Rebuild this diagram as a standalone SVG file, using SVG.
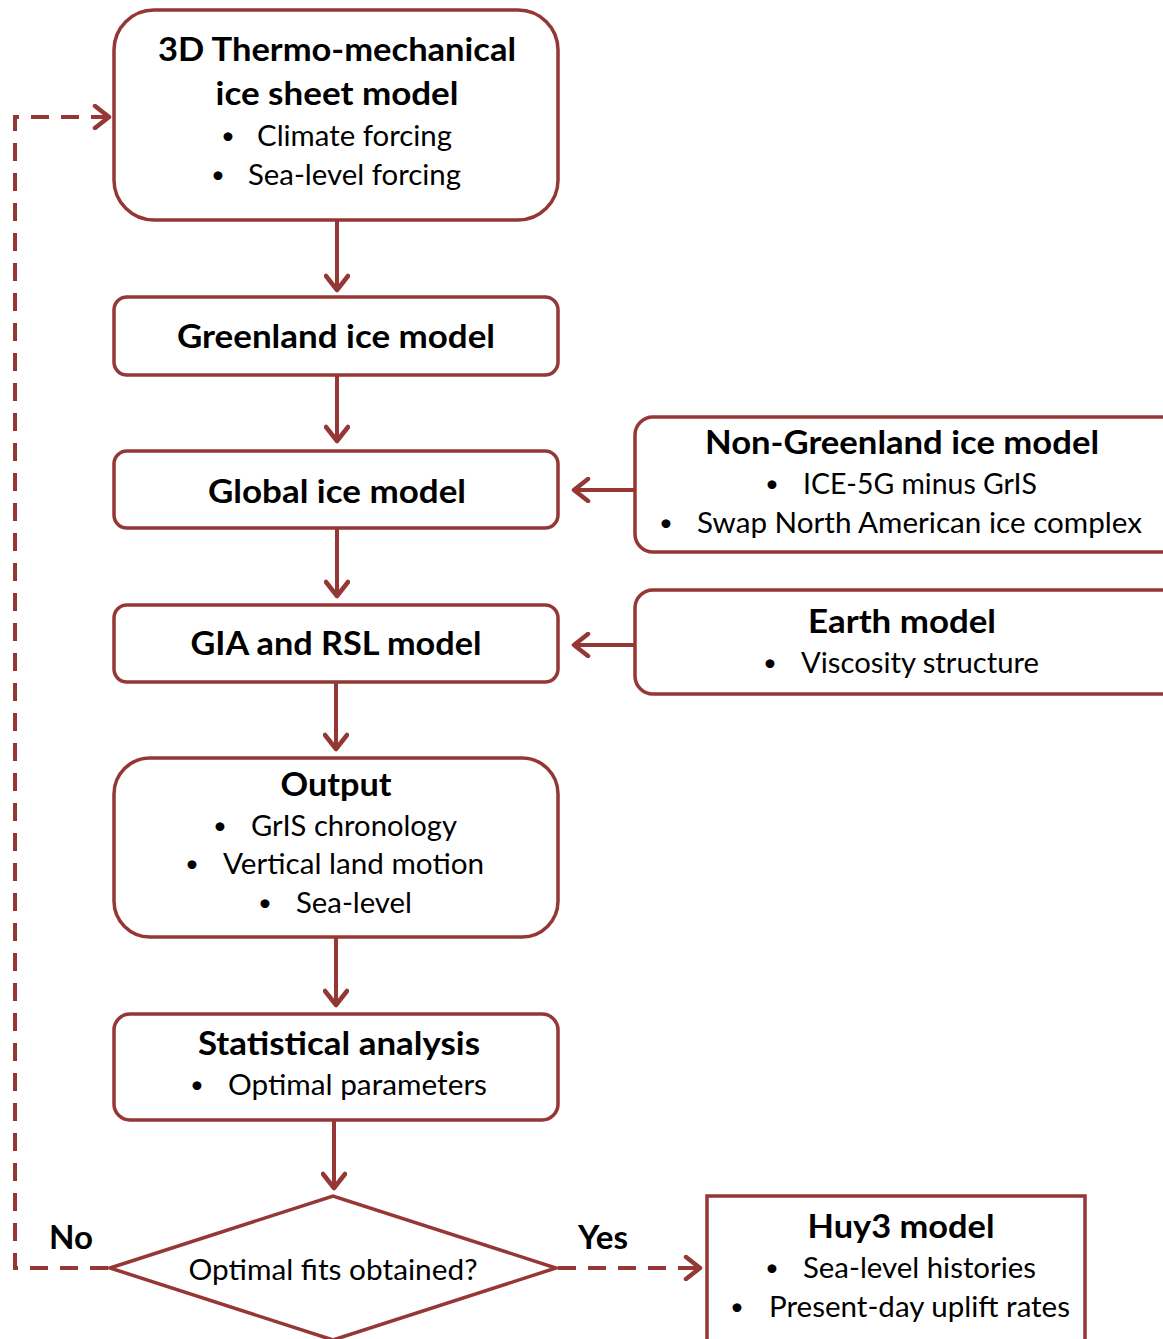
<svg xmlns="http://www.w3.org/2000/svg" width="1163" height="1339" viewBox="0 0 1163 1339">
<style>
.box{fill:#fff;stroke:#953735;stroke-width:3.5}
.ln{fill:none;stroke:#953735;stroke-width:4}
.dash{fill:none;stroke:#953735;stroke-width:4;stroke-dasharray:18 12}
text{font-family:Lato,"Open Sans","Liberation Sans",sans-serif;fill:#000}
.t{font-size:32px;font-weight:bold}
.b{font-size:28px}
.m{text-anchor:middle}
.bu{font-size:24px;text-anchor:middle}
</style>
<defs>
<marker id="ah" viewBox="0 0 24 26" refX="20" refY="13" markerWidth="24" markerHeight="26" markerUnits="userSpaceOnUse" orient="auto">
<polyline points="6,2 20,13 6,24" fill="none" stroke="#953735" stroke-width="4.5" stroke-linecap="round" stroke-linejoin="round"/>
</marker>
</defs>
<g id="connectors">
<line class="ln" x1="337" y1="220" x2="337" y2="290" marker-end="url(#ah)"/>
<line class="ln" x1="337" y1="375" x2="337" y2="441" marker-end="url(#ah)"/>
<line class="ln" x1="337" y1="528" x2="337" y2="596" marker-end="url(#ah)"/>
<line class="ln" x1="336" y1="682" x2="336" y2="749" marker-end="url(#ah)"/>
<line class="ln" x1="336" y1="937" x2="336" y2="1005" marker-end="url(#ah)"/>
<line class="ln" x1="334" y1="1120" x2="334" y2="1188" marker-end="url(#ah)"/>
<line class="ln" x1="635" y1="490" x2="574" y2="490" marker-end="url(#ah)"/>
<line class="ln" x1="635" y1="645" x2="574" y2="645" marker-end="url(#ah)"/>
<polyline class="dash" points="108,1268 15,1268 15,117 109,117" marker-end="url(#ah)"/>
<line class="dash" x1="558" y1="1268" x2="700" y2="1268" marker-end="url(#ah)"/>
</g>
<g id="n1">
<rect class="box" x="114" y="10" width="444" height="210" rx="40"/>
<text class="t m" x="337" y="61" textLength="358" lengthAdjust="spacingAndGlyphs">3D Thermo-mechanical</text>
<text class="t m" x="337" y="105" textLength="243" lengthAdjust="spacingAndGlyphs">ice sheet model</text>
<text class="bu" x="228" y="144">•</text>
<text class="b" x="257" y="146" textLength="195" lengthAdjust="spacingAndGlyphs">Climate forcing</text>
<text class="bu" x="218" y="183">•</text>
<text class="b" x="248" y="185" textLength="213" lengthAdjust="spacingAndGlyphs">Sea-level forcing</text>
</g>
<g id="n2">
<rect class="box" x="114" y="297" width="444" height="78" rx="13"/>
<text class="t m" x="336" y="348" textLength="318" lengthAdjust="spacingAndGlyphs">Greenland ice model</text>
</g>
<g id="n3">
<rect class="box" x="114" y="451" width="444" height="77" rx="13"/>
<text class="t m" x="337" y="503" textLength="258" lengthAdjust="spacingAndGlyphs">Global ice model</text>
</g>
<g id="n4">
<rect class="box" x="114" y="605" width="444" height="77" rx="13"/>
<text class="t m" x="336" y="655" textLength="291" lengthAdjust="spacingAndGlyphs">GIA and RSL model</text>
</g>
<g id="n5">
<rect class="box" x="114" y="758" width="444" height="179" rx="36"/>
<text class="t m" x="336" y="796" textLength="111" lengthAdjust="spacingAndGlyphs">Output</text>
<text class="bu" x="220" y="834">•</text>
<text class="b" x="251" y="836" textLength="206" lengthAdjust="spacingAndGlyphs">GrIS chronology</text>
<text class="bu" x="192" y="872">•</text>
<text class="b" x="223" y="874" textLength="261" lengthAdjust="spacingAndGlyphs">Vertical land motion</text>
<text class="bu" x="265" y="911">•</text>
<text class="b" x="296" y="913" textLength="116" lengthAdjust="spacingAndGlyphs">Sea-level</text>
</g>
<g id="n6">
<rect class="box" x="114" y="1014" width="444" height="106" rx="16"/>
<text class="t m" x="339" y="1055" textLength="282" lengthAdjust="spacingAndGlyphs">Statistical analysis</text>
<text class="bu" x="197" y="1093">•</text>
<text class="b" x="228" y="1095" textLength="259" lengthAdjust="spacingAndGlyphs">Optimal parameters</text>
</g>
<g id="n7">
<polygon class="box" points="110,1268 333,1196 556,1268 333,1340"/>
<text class="b m" x="333" y="1280" textLength="289" lengthAdjust="spacingAndGlyphs">Optimal fits obtained?</text>
</g>
<g id="n8">
<rect class="box" x="707" y="1196" width="378" height="150"/>
<text class="t m" x="901" y="1238" textLength="187" lengthAdjust="spacingAndGlyphs">Huy3 model</text>
<text class="bu" x="772" y="1276">•</text>
<text class="b" x="803" y="1278" textLength="233" lengthAdjust="spacingAndGlyphs">Sea-level histories</text>
<text class="bu" x="737" y="1315">•</text>
<text class="b" x="769" y="1317" textLength="301" lengthAdjust="spacingAndGlyphs">Present-day uplift rates</text>
</g>
<g id="n9">
<rect class="box" x="635" y="417" width="545" height="135" rx="18"/>
<text class="t m" x="902" y="454" textLength="394" lengthAdjust="spacingAndGlyphs">Non-Greenland ice model</text>
<text class="bu" x="772" y="492">•</text>
<text class="b" x="803" y="494" textLength="234" lengthAdjust="spacingAndGlyphs">ICE-5G minus GrIS</text>
<text class="bu" x="666" y="531">•</text>
<text class="b" x="697" y="533" textLength="445" lengthAdjust="spacingAndGlyphs">Swap North American ice complex</text>
</g>
<g id="n10">
<rect class="box" x="635" y="590" width="545" height="104" rx="18"/>
<text class="t m" x="902" y="633" textLength="188" lengthAdjust="spacingAndGlyphs">Earth model</text>
<text class="bu" x="770" y="671">•</text>
<text class="b" x="801" y="673" textLength="238" lengthAdjust="spacingAndGlyphs">Viscosity structure</text>
</g>
<g id="labels">
<text class="t" x="49" y="1249" textLength="44" lengthAdjust="spacingAndGlyphs">No</text>
<text class="t" x="578" y="1249" textLength="50" lengthAdjust="spacingAndGlyphs">Yes</text>
</g>
</svg>
